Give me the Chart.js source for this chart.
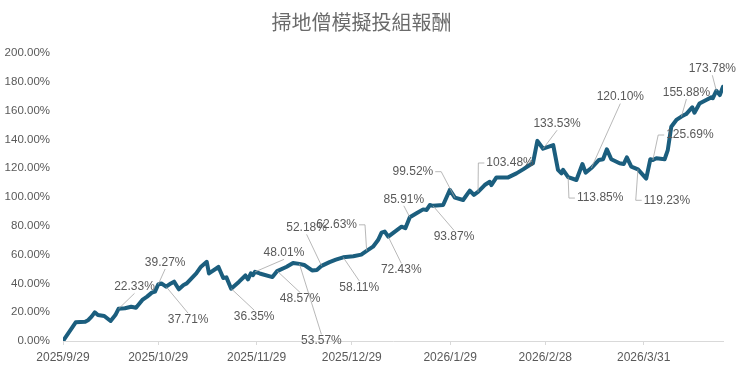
<!DOCTYPE html>
<html>
<head>
<meta charset="utf-8">
<script src="https://cdn.jsdelivr.net/npm/chart.js@4.4.1/dist/chart.umd.min.js"></script>
<style>
  html, body { margin: 0; padding: 0; background: #fff; }
  #wrap { width: 740px; height: 375px; }
</style>
</head>
<body>
<div id="wrap"><canvas id="myChart"></canvas></div>
<script>
// data - days since 2025/9/29 and cumulative return (%)
var dayOffsets = [
  0, 4, 7, 8, 9, 10, 11, 13, 15, 16.5,
  17.5, 19.5, 21.5, 23, 25, 26.5, 28, 29, 30, 31,
  32.5, 34, 35, 36.5, 38, 39, 40.5, 42, 43.5, 45.3,
  46, 49, 50.5, 51.5, 53, 55.5, 57.5, 58.3, 59.2, 59.9,
  60.5, 62, 66, 67.5, 70.5, 72.5, 74.5, 76, 78.5, 80,
  81.5, 84, 86, 88.3, 91.5, 94, 95.7, 97.7, 99.3, 100.4,
  101.4, 102.5, 104.6, 106.7, 107.9, 109.3, 111.4, 113.5, 114.6, 115.6,
  116.6, 119.8, 121.9, 123.5, 126.1, 128.2, 129.5, 130.8, 132.9, 134.5,
  135, 136.6, 140.3, 142.9, 145, 147.1, 148.1, 149.5, 151.3, 154.5,
  156, 157.1, 157.6, 159.2, 161.8, 163.7, 164.7, 166.5, 168.9, 170.2,
  171.4, 172.8, 175.4, 176.7, 177.7, 179.1, 181.2, 183.8, 185.1, 185.9,
  187, 189.6, 190.6, 191.7, 193.3, 194.9, 196.4, 198.3, 199, 200.6,
  202.7, 204.3, 204.8, 205.9, 207, 208
];
var returns = [
  0, 13.0, 13.4, 14.6, 16.9, 19.9, 18.0, 17.4, 13.9, 18.0,
  22.33, 22.7, 23.8, 23.1, 28.5, 30.8, 33.6, 34.3, 39.27, 40.0,
  37.71, 40.0, 41.2, 35.9, 38.9, 40.0, 43.5, 46.9, 51.6, 55.0,
  46.9, 51.4, 43.8, 44.2, 36.35, 41.2, 45.5, 42.8, 47.0, 45.8,
  48.01, 46.9, 44.4, 48.57, 51.6, 54.2, 53.57, 52.8, 49.0, 49.3,
  52.18, 54.8, 56.5, 58.11, 58.8, 60.0, 62.63, 65.5, 70.1, 75.2,
  76.0, 72.43, 76.0, 79.4, 78.3, 85.91, 88.7, 91.4, 91.0, 94.4,
  93.87, 94.4, 104.9, 99.52, 97.9, 104.4, 101.4, 103.48, 108.3, 110.6,
  108.3, 113.6, 113.6, 116.4, 119.2, 122.2, 123.4, 139.0, 133.53, 136.0,
  118.8, 116.4, 118.8, 113.85, 111.8, 122.9, 116.9, 120.10, 125.7, 126.2,
  133.1, 126.2, 123.4, 122.9, 127.5, 121.1, 119.23, 112.8, 126.2, 125.69,
  126.9, 126.2, 132.6, 148.8, 153.5, 155.88, 157.6, 162.3, 158.5, 164.9,
  167.4, 169.2, 168.6, 173.78, 170.8, 176.6
];
var tickDays = [0, 30, 61, 91, 122, 152, 183];
var tickLabels = ['2025/9/29', '2025/10/29', '2025/11/29', '2025/12/29', '2026/1/29', '2026/2/28', '2026/3/31'];

// points that carry a data label
var labelIndex = [10, 18, 20, 34, 40, 43, 46, 50, 53, 56, 61, 65, 70, 73, 77, 88, 93, 97, 106, 109, 115, 123];

// label placement, px from the point, and leader elbow side
var labelOffsets = [
  [16, -22], [7, -22], [22, 33], [23, 28], [29, -19], [23, 28], [22, 77], [-15, -38],
  [16, 30], [-30, -26], [13, 33], [-6, -18], [21, 31], [-42, -26], [32, -29], [14, -25],
  [32, 21], [29, -71], [29, 31], [37, -25], [5, -24], [-4, -22]
];
var labelElbows = { 56: 'right', 73: 'right', 77: 'left', 93: 'left', 106: 'left', 109: 'left' };

var textFont = '"Liberation Sans", Arial, sans-serif';

var pointLabels = {
  id: 'pointLabels',
  afterDatasetsDraw: function (chart) {
    var ctx = chart.ctx;
    var meta = chart.getDatasetMeta(0);
    ctx.save();
    ctx.font = '12px ' + textFont;
    ctx.textAlign = 'center';
    ctx.textBaseline = 'middle';
    labelIndex.forEach(function (idx, k) {
      var pt = meta.data[idx];
      var cx = pt.x + labelOffsets[k][0];
      var cy = pt.y + labelOffsets[k][1];
      var text = returns[idx].toFixed(2) + '%';
      var w = ctx.measureText(text).width;
      var h = 13;
      ctx.strokeStyle = '#a6a6a6';
      ctx.lineWidth = 0.8;
      ctx.beginPath();
      var side = labelElbows[idx];
      if (side) {
        var sx = side === 'left' ? cx - w / 2 - 2 : cx + w / 2 + 2;
        var ex = side === 'left' ? sx - 6 : sx + 6;
        ctx.moveTo(sx, cy);
        ctx.lineTo(ex, cy);
        ctx.lineTo(pt.x, pt.y);
      } else {
        var sy = pt.y < cy ? cy - h / 2 : cy + h / 2;
        ctx.moveTo(cx, sy);
        ctx.lineTo(pt.x, pt.y);
      }
      ctx.stroke();
      ctx.fillStyle = '#595959';
      ctx.fillText(text, cx, cy);
    });
    ctx.restore();
  }
};

var config = {
  type: 'line',
  data: {
    datasets: [{
      data: dayOffsets.map(function (d, i) { return { x: d, y: returns[i] }; }),
      borderColor: '#1b5e7e',
      borderWidth: 4,
      pointRadius: 0,
      tension: 0,
      borderJoinStyle: 'round',
      borderCapStyle: 'round'
    }]
  },
  options: {
    responsive: true,
    maintainAspectRatio: false,
    animation: false,
    layout: { padding: { right: 17 } },
    plugins: {
      legend: { display: false },
      tooltip: { enabled: false },
      title: {
        display: true,
        text: '掃地僧模擬投組報酬',
        color: '#6b6b6b',
        font: { family: '"Noto Sans CJK TC", sans-serif', size: 20, weight: 'normal' },
        padding: { top: 10, bottom: 19 }
      }
    },
    scales: {
      x: {
        type: 'linear',
        min: 0,
        max: 208,
        afterBuildTicks: function (axis) {
          axis.ticks = tickDays.map(function (v) { return { value: v }; });
        },
        afterFit: function (axis) { axis.height = 34; },
        ticks: {
          callback: function (v) { return tickLabels[tickDays.indexOf(v)]; },
          color: '#595959',
          font: { family: textFont, size: 12 },
          padding: 5,
          maxRotation: 0,
          autoSkip: false
        },
        grid: { drawOnChartArea: false, drawTicks: true, tickLength: 4, color: '#d9d9d9' },
        border: { color: '#d9d9d9' }
      },
      y: {
        min: 0,
        max: 200,
        afterFit: function (axis) { axis.width = 63; },
        ticks: {
          stepSize: 20,
          callback: function (v) { return v.toFixed(2) + '%'; },
          color: '#595959',
          font: { family: textFont, size: 11.5 },
          padding: 5
        },
        grid: { display: false },
        border: { display: false }
      }
    }
  },
  plugins: [pointLabels]
};

// Create the chart
var myChart = new Chart(document.getElementById('myChart'), config);
</script>
</body>
</html>
